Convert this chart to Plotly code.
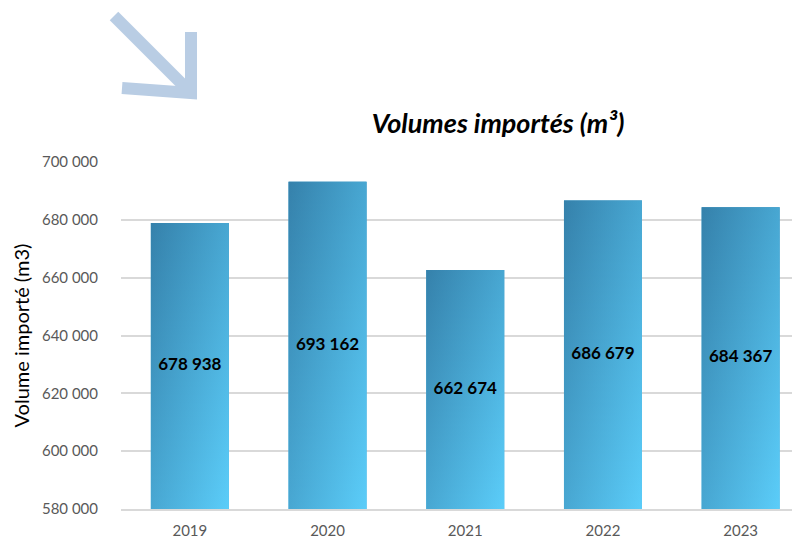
import plotly.graph_objects as go

years = ["2019", "2020", "2021", "2022", "2023"]
volumes = [678938, 693162, 662674, 686679, 684367]
y_ticks = [580000, 600000, 620000, 640000, 660000, 680000, 700000]
y_min, y_max = 580000, 700000

W, H = 792, 539
L, R, T, B = 121, 0, 162, 30
pw, ph = W - L - R, H - T - B
BARGAP = 0.434

def px2paper(x, y):
    return (x - L) / pw, (H - B - y) / ph

def path(points):
    s = ""
    for i, (x, y) in enumerate(points):
        px, py = px2paper(x, y)
        s += ("M" if i == 0 else " L") + f" {px:.4f} {py:.4f}"
    return s

xs = list(range(len(years)))
dark, light = (53, 129, 171), (91, 205, 249)

def rgba(c, a):
    return f"rgba({c[0]},{c[1]},{c[2]},{a})"

fig = go.Figure()
fig.add_trace(go.Bar(
    x=xs,
    y=volumes,
    marker=dict(color="#48a8d6", line=dict(width=0)),
    hoverinfo="skip",
))

# diagonal gradient fill for each bar (vertical ramp + half-transparent horizontal ramp)
hw = (1 - BARGAP) / 2
for i, v in zip(xs, volumes):
    px_ = [i - hw, i + hw, i + hw, i - hw, i - hw]
    py_ = [y_min, y_min, v, v, y_min]
    fig.add_trace(go.Scatter(
        x=px_, y=py_, mode="none", fill="toself",
        fillgradient=dict(type="vertical",
                          colorscale=[[0, rgba(light, 1)], [1, rgba(dark, 1)]]),
        hoverinfo="skip",
    ))
    fig.add_trace(go.Scatter(
        x=px_, y=py_, mode="none", fill="toself",
        fillgradient=dict(type="horizontal",
                          colorscale=[[0, rgba(dark, 0.5)], [1, rgba(light, 0.5)]]),
        hoverinfo="skip",
    ))

# data labels centred in the visible part of each bar
fig.add_trace(go.Scatter(
    x=xs,
    y=[(v + y_min) / 2 for v in volumes],
    customdata=volumes,
    mode="text",
    texttemplate="<b>%{customdata:,d}</b>",
    textposition="middle center",
    textfont=dict(family="Lato", size=17, color="black"),
    hoverinfo="skip",
))

arrow_color = "#b9cde4"
fig.update_layout(
    width=W, height=H,
    margin=dict(l=L, r=R, t=T, b=B, autoexpand=False),
    paper_bgcolor="white", plot_bgcolor="white",
    separators=", ",
    showlegend=False,
    bargap=BARGAP,
    title=dict(text="<b><i>Volumes importés (m³)</i></b>",
               font=dict(family="Lato", size=27, color="black"),
               x=498 / W, xref="container", xanchor="center",
               y=1 - 124 / H, yref="container", yanchor="middle"),
    xaxis=dict(
        tickvals=xs, ticktext=years,
        range=[-0.5, -0.5 + pw / 137.7],
        showgrid=False, zeroline=False,
        showline=True, linecolor="#d9d9d9", linewidth=1.5,
        ticks="", ticklabelstandoff=7, automargin=False,
        tickfont=dict(family="Lato", size=15, color="#595959"),
        fixedrange=True,
    ),
    yaxis=dict(
        range=[y_min, y_max],
        tickvals=y_ticks, tickformat=",d",
        showgrid=True, gridcolor="#d9d9d9", gridwidth=1.5,
        zeroline=False, showline=False, ticks="",
        ticklabelstandoff=22, automargin=False,
        tickfont=dict(family="Lato", size=15, color="#595959"),
        title=dict(text="Volume importé (m3)", standoff=6,
                   font=dict(family="Lato", size=20, color="black")),
        fixedrange=True,
    ),
    shapes=[
        dict(type="path", xref="paper", yref="paper",
             path=path([(114, 16), (190, 92)]),
             line=dict(color=arrow_color, width=12)),
        dict(type="path", xref="paper", yref="paper",
             path=path([(122, 88), (191, 93), (191, 32)]),
             line=dict(color=arrow_color, width=12)),
    ],
)

fig.write_html("out.html", config={"displayModeBar": False},
               post_script="document.body.style.margin='0';")
